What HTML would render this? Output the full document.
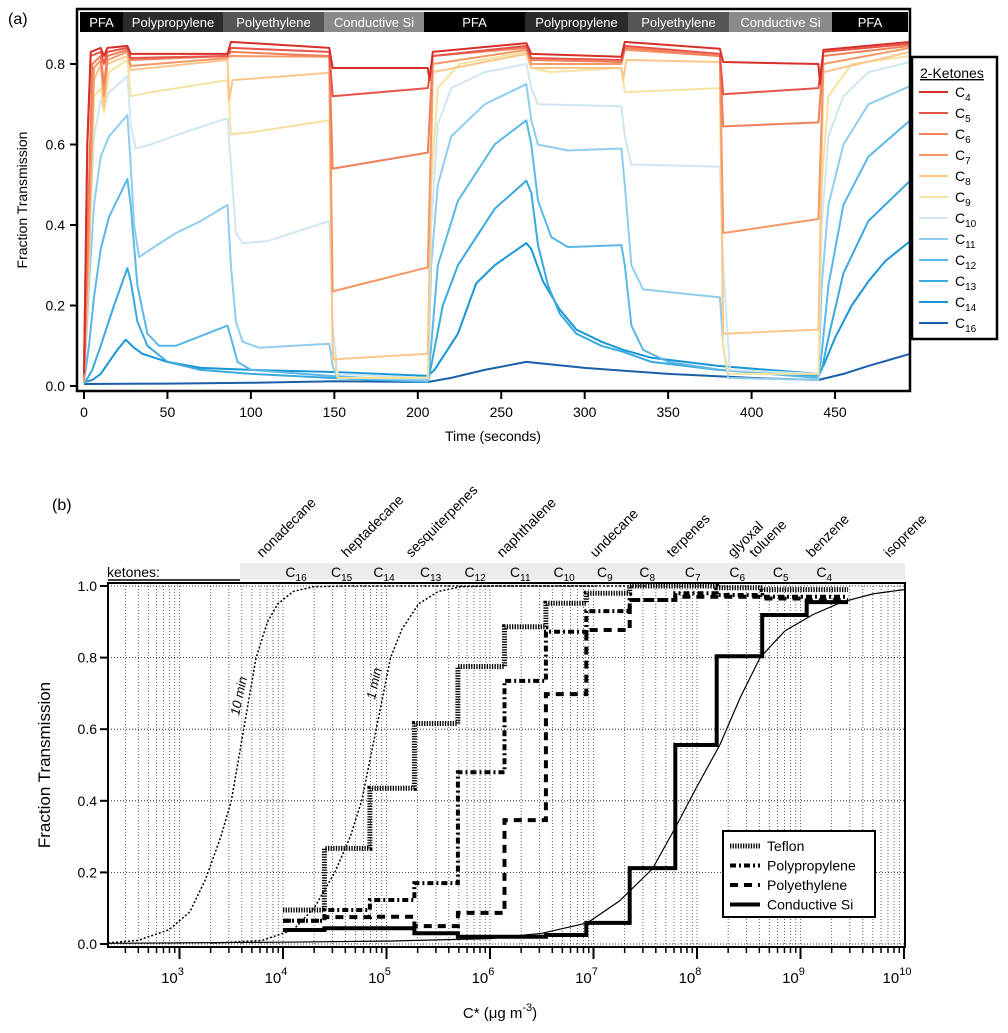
<!DOCTYPE html>
<html><head><meta charset="utf-8"><style>
body{margin:0;background:#fff;}
svg{display:block;font-family:"Liberation Sans",sans-serif;}
</style></head><body>
<svg id="fig" width="1008" height="1033" viewBox="0 0 1008 1033" xmlns="http://www.w3.org/2000/svg">
<g id="topChart"></g>
<g id="botChart"></g>
</svg>
<script>
// ---------- Panel (a) data ----------
const timeTicks = [0,50,100,150,200,250,300,350,400,450];
const transTicks = [0,0.2,0.4,0.6,0.8];
const ketoneNames = ['4','5','6','7','8','9','10','11','12','13','14','16'];
const headerLabels = ['PFA','Polypropylene','Polyethylene','Conductive Si','PFA','Polypropylene','Polyethylene','Conductive Si','PFA'];
const c4 = [[0,0.03],[2,0.6],[4,0.83],[10,0.84],[12,0.82],[14,0.84],[26,0.845],[28,0.825],[86,0.825],[88,0.855],[147,0.84],[149,0.79],[206,0.79],[207,0.76],[209,0.83],[265,0.852],[268,0.825],[322,0.818],[324,0.855],[381,0.838],[383,0.805],[440,0.80],[441,0.75],[443,0.835],[495,0.855]];
const c5 = [[0,0.04],[2,0.6],[4,0.82],[10,0.83],[12,0.8],[14,0.83],[26,0.84],[28,0.815],[86,0.82],[88,0.84],[147,0.83],[149,0.72],[206,0.74],[209,0.82],[265,0.845],[268,0.815],[322,0.81],[324,0.845],[381,0.825],[383,0.725],[440,0.74],[443,0.83],[495,0.85]];
const c6 = [[0,0.02],[3,0.5],[5,0.8],[10,0.82],[12,0.75],[14,0.82],[26,0.835],[28,0.81],[86,0.82],[88,0.83],[147,0.82],[149,0.54],[206,0.58],[209,0.82],[265,0.84],[268,0.81],[322,0.805],[324,0.84],[381,0.82],[383,0.645],[440,0.655],[443,0.82],[495,0.845]];
const c7 = [[0,0.01],[3,0.4],[6,0.79],[10,0.81],[12,0.72],[14,0.81],[26,0.83],[28,0.795],[86,0.815],[88,0.82],[147,0.818],[149,0.235],[206,0.295],[209,0.8],[265,0.835],[268,0.8],[322,0.8],[324,0.835],[381,0.82],[383,0.38],[440,0.415],[443,0.8],[495,0.84]];
const c8 = [[0,0.01],[3,0.3],[6,0.76],[10,0.8],[12,0.69],[14,0.8],[26,0.82],[28,0.785],[86,0.81],[87,0.71],[89,0.76],[147,0.778],[149,0.066],[206,0.08],[209,0.78],[265,0.825],[268,0.79],[322,0.79],[323,0.76],[325,0.81],[381,0.805],[383,0.13],[440,0.14],[443,0.78],[495,0.83]];
const c9 = [[0,0.01],[3,0.3],[6,0.72],[10,0.74],[12,0.68],[15,0.78],[26,0.81],[28,0.72],[40,0.73],[86,0.76],[88,0.625],[100,0.63],[147,0.66],[149,0.1],[152,0.02],[206,0.02],[208,0.5],[212,0.74],[225,0.8],[265,0.83],[268,0.79],[280,0.78],[322,0.79],[324,0.73],[381,0.74],[383,0.1],[386,0.03],[440,0.03],[442,0.5],[446,0.72],[460,0.8],[495,0.82]];
const c10 = [[0,0.01],[3,0.35],[6,0.62],[10,0.71],[12,0.69],[15,0.73],[26,0.77],[28,0.65],[31,0.59],[40,0.6],[60,0.63],[86,0.665],[88,0.55],[91,0.38],[95,0.355],[110,0.36],[147,0.41],[149,0.15],[152,0.03],[206,0.02],[208,0.4],[212,0.65],[220,0.74],[240,0.78],[265,0.8],[268,0.74],[272,0.7],[322,0.695],[324,0.62],[328,0.55],[381,0.545],[383,0.3],[387,0.04],[440,0.03],[442,0.4],[446,0.62],[455,0.72],[470,0.78],[495,0.805]];
const c11 = [[0,0.01],[3,0.25],[6,0.45],[10,0.57],[15,0.62],[26,0.673],[28,0.55],[30,0.4],[33,0.32],[40,0.34],[55,0.38],[70,0.41],[86,0.45],[88,0.3],[91,0.16],[95,0.11],[105,0.095],[147,0.105],[149,0.05],[152,0.02],[206,0.015],[208,0.3],[212,0.5],[220,0.62],[240,0.7],[265,0.75],[268,0.66],[272,0.6],[290,0.585],[322,0.59],[324,0.5],[328,0.3],[335,0.24],[381,0.22],[383,0.1],[386,0.02],[440,0.015],[442,0.25],[446,0.45],[455,0.6],[470,0.7],[495,0.745]];
const c12 = [[0,0.01],[3,0.1],[6,0.22],[10,0.34],[15,0.42],[26,0.514],[28,0.45],[32,0.25],[38,0.13],[45,0.1],[55,0.1],[86,0.15],[88,0.12],[92,0.06],[100,0.04],[147,0.025],[206,0.012],[208,0.1],[212,0.3],[224,0.46],[246,0.6],[265,0.66],[268,0.6],[272,0.46],[280,0.37],[290,0.345],[322,0.35],[324,0.3],[328,0.15],[335,0.09],[350,0.06],[381,0.04],[440,0.02],[442,0.08],[446,0.25],[455,0.45],[470,0.57],[495,0.66]];
const c13 = [[0,0.005],[5,0.04],[10,0.1],[18,0.2],[26,0.293],[28,0.26],[32,0.16],[38,0.1],[50,0.06],[70,0.04],[100,0.03],[147,0.02],[206,0.01],[208,0.05],[215,0.2],[224,0.3],[246,0.44],[265,0.51],[268,0.48],[272,0.35],[278,0.25],[285,0.18],[295,0.13],[310,0.1],[323,0.085],[340,0.06],[380,0.04],[440,0.025],[442,0.04],[446,0.12],[455,0.28],[470,0.41],[495,0.51]];
const c14 = [[0,0.01],[5,0.015],[10,0.03],[15,0.06],[20,0.09],[25,0.115],[30,0.095],[35,0.08],[50,0.06],[70,0.045],[100,0.04],[147,0.035],[206,0.025],[210,0.04],[224,0.13],[235,0.255],[246,0.3],[265,0.355],[268,0.34],[275,0.26],[285,0.19],[295,0.14],[310,0.11],[323,0.09],[340,0.07],[380,0.05],[440,0.03],[443,0.05],[450,0.12],[460,0.2],[470,0.26],[480,0.31],[495,0.36]];
const c16 = [[0,0.005],[50,0.006],[100,0.008],[150,0.012],[206,0.01],[220,0.02],[240,0.04],[265,0.06],[300,0.045],[350,0.03],[400,0.02],[440,0.015],[455,0.03],[470,0.05],[495,0.08]];

// ---------- Panel (b) data ----------
const decadeTicks = [3,4,5,6,7,8,9,10];
const fracTicks = [0,0.2,0.4,0.6,0.8,1.0];
const binEdges = [4.0,4.40,4.84,5.27,5.69,6.14,6.54,6.93,7.35,7.79,8.19,8.63,9.06,9.46];
const teflonVals = [0.095,0.267,0.435,0.616,0.775,0.886,0.952,0.98,1.0,1.0,0.995,0.99,0.99];
const polypropVals = [0.065,0.095,0.123,0.17,0.48,0.735,0.872,0.93,0.961,0.98,0.975,0.97,0.97];
const polyethVals = [0.065,0.075,0.076,0.05,0.087,0.346,0.698,0.877,0.961,0.97,0.97,0.965,0.96];
const condSiVals = [0.039,0.044,0.044,0.03,0.02,0.02,0.025,0.059,0.212,0.556,0.804,0.919,0.955];
const tenMinCurve = [[2.31,0.003],[2.6,0.01],[2.9,0.04],[3.1,0.09],[3.25,0.18],[3.4,0.3],[3.5,0.4],[3.62,0.6],[3.74,0.8],[3.85,0.9],[3.95,0.95],[4.1,0.985],[4.3,0.998],[4.6,1],[7.0,1]];
const oneMinCurve = [[3.3,0.002],[3.8,0.01],[4.1,0.04],[4.3,0.1],[4.5,0.2],[4.65,0.3],[4.76,0.4],[4.9,0.6],[5.04,0.8],[5.15,0.88],[5.31,0.95],[5.5,0.985],[5.72,0.998],[6,1],[7.5,1]];
const condSiModel = [[2.31,0.002],[4,0.005],[5,0.008],[6,0.015],[6.5,0.03],[6.94,0.059],[7.25,0.12],[7.57,0.21],[7.8,0.33],[8.0,0.44],[8.22,0.556],[8.42,0.69],[8.61,0.8],[8.85,0.875],[9.12,0.92],[9.4,0.955],[9.7,0.978],[10.0,0.99]];
const ketoneLabelNums = ['16','15','14','13','12','11','10','9','8','7','6','5','4'];
const ketoneLabelLogs = [4.12,4.56,4.97,5.42,5.85,6.29,6.71,7.13,7.54,7.98,8.41,8.83,9.25];
const compoundNames = ['nonadecane','heptadecane','sesquiterpenes','naphthalene','undecane','terpenes','glyoxal','toluene','benzene','isoprene'];
const compoundLogs = [3.8,4.62,5.24,6.12,7.02,7.76,8.35,8.56,9.11,9.86];

const NS='http://www.w3.org/2000/svg';
function mk(parent,tag,attrs,text){const e=document.createElementNS(NS,tag);for(const k in attrs)e.setAttribute(k,attrs[k]);if(text!==undefined)e.textContent=text;parent.appendChild(e);return e;}

// ===== Panel (a) =====
const A=document.getElementById('topChart');
const ax=t=>84+1.669*t, ay=v=>386-402.5*v;
mk(A,'text',{x:8,y:24,'font-size':16},'(a)');
const hb=[80,123,223,324,424,525,628,729,832,908];
const hcol=['#000','#2b2b2b','#565656','#8a8a8a','#000','#2b2b2b','#565656','#8a8a8a','#000'];
for(let i=0;i<headerLabels.length;i++){
  const r=mk(A,'rect',{x:hb[i],y:12,width:hb[i+1]-hb[i],height:20,fill:hcol[i]});
  
  
  const t=mk(A,'text',{x:(hb[i]+hb[i+1])/2,y:27,'font-size':13,fill:'#fff','text-anchor':'middle'},headerLabels[i]);
  
  
}
const colors=['#d62f2a','#e8544a','#f07f5c','#f39866','#fbc68a','#f5e2a0','#cfe6f1','#8fcdee','#5ab7e6','#3aa9e0','#1896d6','#1a5fa8'];
const series=[c4,c5,c6,c7,c8,c9,c10,c11,c12,c13,c14,c16];
for(let s=series.length-1;s>=0;s--){
  const d=series[s].map((p,i)=>(i?'L':'M')+ax(p[0]).toFixed(1)+' '+ay(p[1]).toFixed(1)).join('');
  const p=mk(A,'path',{d:d,fill:'none',stroke:colors[s],'stroke-width':2,'stroke-linejoin':'round'});
  
  
}
mk(A,'rect',{x:77,y:9,width:833,height:382,fill:'none',stroke:'#000','stroke-width':2.5});
for(const t of timeTicks){
  mk(A,'line',{x1:ax(t),x2:ax(t),y1:391,y2:399,stroke:'#000','stroke-width':2});
  const l=mk(A,'text',{x:ax(t),y:417,'font-size':14,'text-anchor':'middle'},String(t));
  
  
}
for(const v of transTicks){
  mk(A,'line',{x1:70,x2:77,y1:ay(v),y2:ay(v),stroke:'#000','stroke-width':2});
  const l=mk(A,'text',{x:65,y:ay(v)+5,'font-size':14,'text-anchor':'end'},v.toFixed(1));
  
  
}
const axt=mk(A,'text',{x:493,y:441,'font-size':14,'text-anchor':'middle'},'Time (seconds)');

const ayt=mk(A,'text',{x:0,y:0,'font-size':14,'text-anchor':'middle',transform:'translate(27,200) rotate(-90)'},'Fraction Transmission');

const lg=mk(A,'g',{});

mk(lg,'rect',{x:912,y:57,width:85,height:282,fill:'#fff',stroke:'#000','stroke-width':2.5});
mk(lg,'text',{x:920,y:78,'font-size':14,'text-decoration':'underline'},'2-Ketones');
for(let i=0;i<ketoneNames.length;i++){
  const yy=92+i*21;
  mk(lg,'line',{x1:919,x2:948,y1:yy,y2:yy,stroke:colors[i],'stroke-width':2});
  const t=mk(lg,'text',{x:955,y:yy+5,'font-size':14},'C');
  
  
  mk(t,'tspan',{'font-size':10,dy:4},ketoneNames[i]);
}

// ===== Panel (b) =====
const B=document.getElementById('botChart');
const bx=l=>283+103.5*(l-4), by=v=>944-358*v;
const L=108,R=905,T=583,Bt=947;
mk(B,'text',{x:52,y:510,'font-size':16},'(b)');
for(let d=2;d<=9;d++){for(let k=1;k<=9;k++){const l=d+Math.log10(k);const x=bx(l);if(x<=L+1||x>=R-1)continue;
  mk(B,'line',{x1:x,x2:x,y1:T,y2:Bt,stroke:'#000','stroke-width':0.8,'stroke-dasharray':'1,2',opacity:0.75});}}
for(const v of fracTicks){mk(B,'line',{x1:L,x2:R,y1:by(v),y2:by(v),stroke:'#000','stroke-width':0.8,'stroke-dasharray':'1,2'});}
mk(B,'rect',{x:240,y:563,width:665,height:17,fill:'#ececec'});
mk(B,'text',{x:107,y:577,'font-size':14},'ketones:');
mk(B,'line',{x1:108,x2:240,y1:580,y2:580,stroke:'#000','stroke-width':1.5});
for(let i=0;i<ketoneLabelNums.length;i++){
  const t=mk(B,'text',{x:bx(ketoneLabelLogs[i])-10,y:577,'font-size':14},'C');
  
  
  mk(t,'tspan',{'font-size':10,dy:4},ketoneLabelNums[i]);
}
for(let i=0;i<compoundNames.length;i++){
  const x=bx(compoundLogs[i]);
  const t=mk(B,'text',{x:0,y:0,'font-size':14,transform:`translate(${x},558) rotate(-45)`},compoundNames[i]);
  
  
}
function curve(arr,style,name){
  const d=arr.map((p,i)=>(i?'L':'M')+bx(p[0]).toFixed(1)+' '+by(p[1]).toFixed(1)).join('');
  const p=mk(B,'path',Object.assign({d:d,fill:'none',stroke:'#000'},style));
  
  
}
curve(tenMinCurve,{'stroke-width':1.5,'stroke-dasharray':'2,2'},'ten-min-curve');
curve(oneMinCurve,{'stroke-width':1.5,'stroke-dasharray':'2,2'},'one-min-curve');
curve(condSiModel,{'stroke-width':1.2},'conductive-si-model-curve');
mk(B,'text',{x:0,y:0,'font-size':13,'font-style':'italic',transform:'translate(239,716) rotate(-78)'},'10 min');
mk(B,'text',{x:0,y:0,'font-size':13,'font-style':'italic',transform:'translate(375,700) rotate(-78)'},'1 min');
function steps(vals,style,name){
  let d='M'+bx(binEdges[0])+' '+by(vals[0]);
  for(let i=0;i<vals.length;i++){ if(i) d+='V'+by(vals[i]).toFixed(1); d+='H'+bx(binEdges[i+1]).toFixed(1);}
  const p=mk(B,'path',Object.assign({d:d,fill:'none',stroke:'#000'},style));
  
  
}
const stTef={'stroke-width':5,'stroke-dasharray':'1.3,1.3'};
const stPP={'stroke-width':4,'stroke-dasharray':'6,3,2,3'};
const stPE={'stroke-width':4,'stroke-dasharray':'8,6'};
const stSi={'stroke-width':4};
steps(condSiVals,stSi,'conductive-si-steps');
steps(polyethVals,stPE,'polyethylene-steps');
steps(polypropVals,stPP,'polypropylene-steps');
steps(teflonVals,stTef,'teflon-steps');
mk(B,'rect',{x:L,y:T,width:R-L,height:Bt-T,fill:'none',stroke:'#000','stroke-width':2});
for(let d=2;d<=9;d++){for(let k=1;k<=9;k++){const l=d+Math.log10(k);const x=bx(l);if(x<L||x>R+1)continue;
  mk(B,'line',{x1:x,x2:x,y1:Bt,y2:Bt+(k==1?12:6),stroke:'#000','stroke-width':k==1?2:1.5});}}
mk(B,'line',{x1:bx(10),x2:bx(10),y1:Bt,y2:Bt+12,stroke:'#000','stroke-width':2});
for(const d of decadeTicks){
  const t=mk(B,'text',{x:bx(d)-7,y:983,'font-size':15,'text-anchor':'middle'},'10');
  
  
  mk(t,'tspan',{'font-size':11,dy:-8},String(d));
}
for(const v of fracTicks){
  mk(B,'line',{x1:L-8,x2:L,y1:by(v),y2:by(v),stroke:'#000','stroke-width':2});
  const t=mk(B,'text',{x:L-11,y:by(v)+5,'font-size':14,'text-anchor':'end'},v.toFixed(1));
  
  
}
const bxt=mk(B,'text',{x:500,y:1018,'font-size':15,'text-anchor':'middle'},'C* (μg m');

mk(bxt,'tspan',{'font-size':11,dy:-7},'-3');mk(bxt,'tspan',{dy:7},')');
const byt=mk(B,'text',{x:0,y:0,'font-size':17,'text-anchor':'middle',transform:'translate(50,765) rotate(-90)'},'Fraction Transmission');

const lb=mk(B,'g',{});

mk(lb,'rect',{x:723,y:831,width:152,height:86,fill:'#fff',stroke:'#000','stroke-width':2});
const lnames=['Teflon','Polypropylene','Polyethylene','Conductive Si'];
const lstyles=[stTef,stPP,stPE,stSi];
for(let i=0;i<4;i++){
  const yy=846+i*19.5;
  mk(lb,'line',Object.assign({x1:730,x2:760,y1:yy,y2:yy,stroke:'#000'},lstyles[i]));
  const t=mk(lb,'text',{x:767,y:yy+5,'font-size':14},lnames[i]);
  
  
}
</script>
</body></html>
